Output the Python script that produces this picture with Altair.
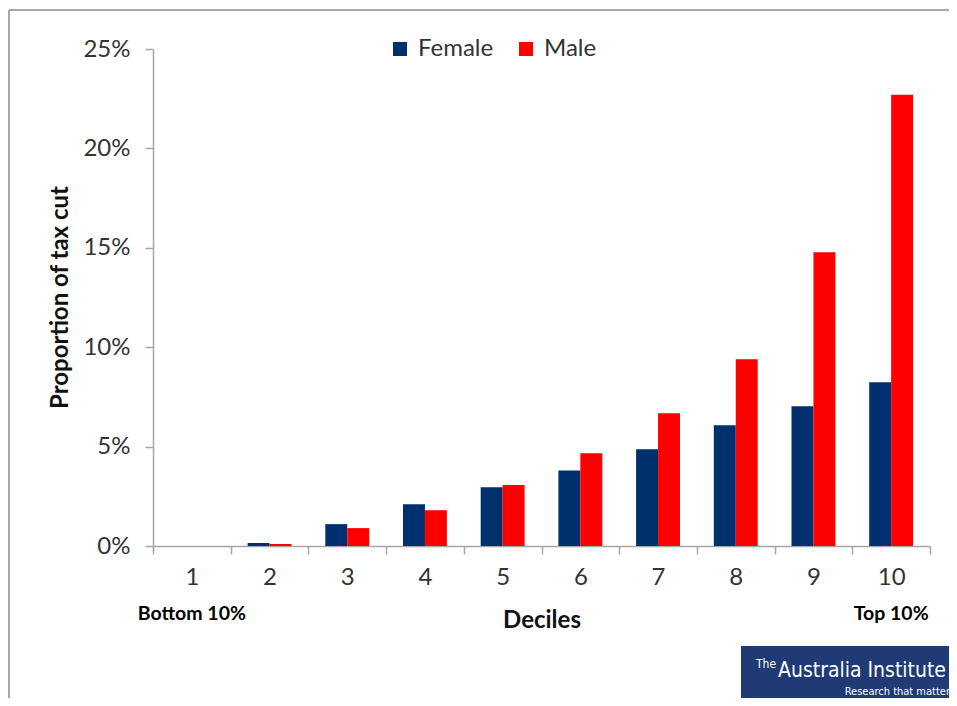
import altair as alt
import pandas as pd

deciles = ["1", "2", "3", "4", "5", "6", "7", "8", "9", "10"]
female = [0.0, 0.0015, 0.011, 0.021, 0.0295, 0.038, 0.0487, 0.0608, 0.0703, 0.0824]
male = [0.0, 0.001, 0.009, 0.018, 0.0307, 0.0467, 0.0668, 0.094, 0.1477, 0.227]
series = ["Female", "Male"]
colors = ["#00306E", "#FF0000"]

rows = []
for d, f, m in zip(deciles, female, male):
    rows.append({"Decile": d, "Sex": "Female", "Value": f})
    rows.append({"Decile": d, "Sex": "Male", "Value": m})
df = pd.DataFrame(rows)

FONT = "Lato"
NARROW = "DejaVu Sans Condensed, Roboto, sans-serif"
GRAY = "#A6A6A6"

x_enc = alt.X(
    "Decile:N",
    sort=deciles,
    scale=alt.Scale(paddingInner=0, paddingOuter=0),
    axis=alt.Axis(
        title="Deciles",
        labelAngle=0,
        tickBand="extent",
        tickSize=8,
        labelPadding=11,
        labelFontSize=24,
        labelColor="#333333",
        titleFontSize=24,
        titleFontWeight="bold",
        titleColor="#111111",
        titleY=74,
        titleBaseline="middle",
    ),
)

bars = alt.Chart(df).mark_bar().encode(
    x=x_enc,
    xOffset=alt.XOffset("Sex:N", sort=series,
                        scale=alt.Scale(paddingInner=0, paddingOuter=0.77)),
    y=alt.Y(
        "Value:Q",
        scale=alt.Scale(domain=[0, 0.25], nice=False),
        axis=alt.Axis(
            title="Proportion of tax cut",
            format=".0%",
            values=[0, 0.05, 0.10, 0.15, 0.20, 0.25],
            tickSize=8,
            labelPadding=15,
            labelFontSize=24,
            labelColor="#333333",
            titleFontSize=24,
            titleFontWeight="bold",
            titleColor="#111111",
            titleX=-93,
            titleY=248,
            titleAngle=-90,
            titleBaseline="middle",
            grid=False,
        ),
    ),
    color=alt.Color(
        "Sex:N",
        sort=series,
        scale=alt.Scale(domain=series, range=colors),
        legend=alt.Legend(
            title=None,
            orient="none",
            direction="horizontal",
            legendX=235,
            legendY=-12,
            symbolType="square",
            symbolSize=196,
            symbolStrokeWidth=0,
            labelFontSize=24,
            labelColor="#333333",
            labelOffset=6,
            columnPadding=20,
        ),
    ),
)

ends = pd.DataFrame({"Decile": ["1", "10"], "label": ["Bottom 10%", "Top 10%"]})
end_text = alt.Chart(ends).mark_text(
    font=FONT, fontSize=19.5, fontWeight="bold", color="#000000", baseline="middle"
).encode(
    x=alt.X("Decile:N", sort=deciles),
    y=alt.value(565),
    text="label:N",
)

one = pd.DataFrame({"a": [0]})
frame_left = alt.Chart(one).mark_rule(color="#8C8C8C", strokeWidth=1.5).encode(
    x=alt.value(-144), y=alt.value(-39), y2=alt.value(700)
)
frame_top = alt.Chart(one).mark_rule(color="#8C8C8C", strokeWidth=1.5).encode(
    x=alt.value(-144), x2=alt.value(820), y=alt.value(-39)
)

logo_rect = alt.Chart(one).mark_rect(color="#1F3A75").encode(
    x=alt.value(588), x2=alt.value(820), y=alt.value(597), y2=alt.value(660)
)
logo_the = alt.Chart(one).mark_text(
    text="The", font=NARROW, fontSize=12, color="white", align="left", baseline="alphabetic"
).encode(x=alt.value(603), y=alt.value(619))
logo_main = alt.Chart(one).mark_text(
    text="Australia Institute", font=NARROW, fontSize=21, color="white",
    align="right", baseline="alphabetic"
).encode(x=alt.value(793), y=alt.value(628))
logo_sub = alt.Chart(one).mark_text(
    text="Research that matter", font=NARROW, fontSize=11, color="white",
    align="right", baseline="alphabetic"
).encode(x=alt.value(797), y=alt.value(646))

chart = alt.layer(
    frame_left, frame_top, bars, end_text, logo_rect, logo_the, logo_main, logo_sub
).properties(
    width=777,
    height=497,
    autosize=alt.AutoSizeParams(type="none"),
    padding={"left": 145, "top": 41, "right": 19, "bottom": 152},
    background="white",
).configure_view(
    stroke=None
).configure_axis(
    domainColor=GRAY,
    domainWidth=1.5,
    tickColor=GRAY,
    tickWidth=1.5,
    labelFont=FONT,
    titleFont=FONT,
    grid=False,
).configure_legend(
    labelFont=FONT
)

chart.save("out.html", embed_options={"renderer": "svg", "actions": False})
